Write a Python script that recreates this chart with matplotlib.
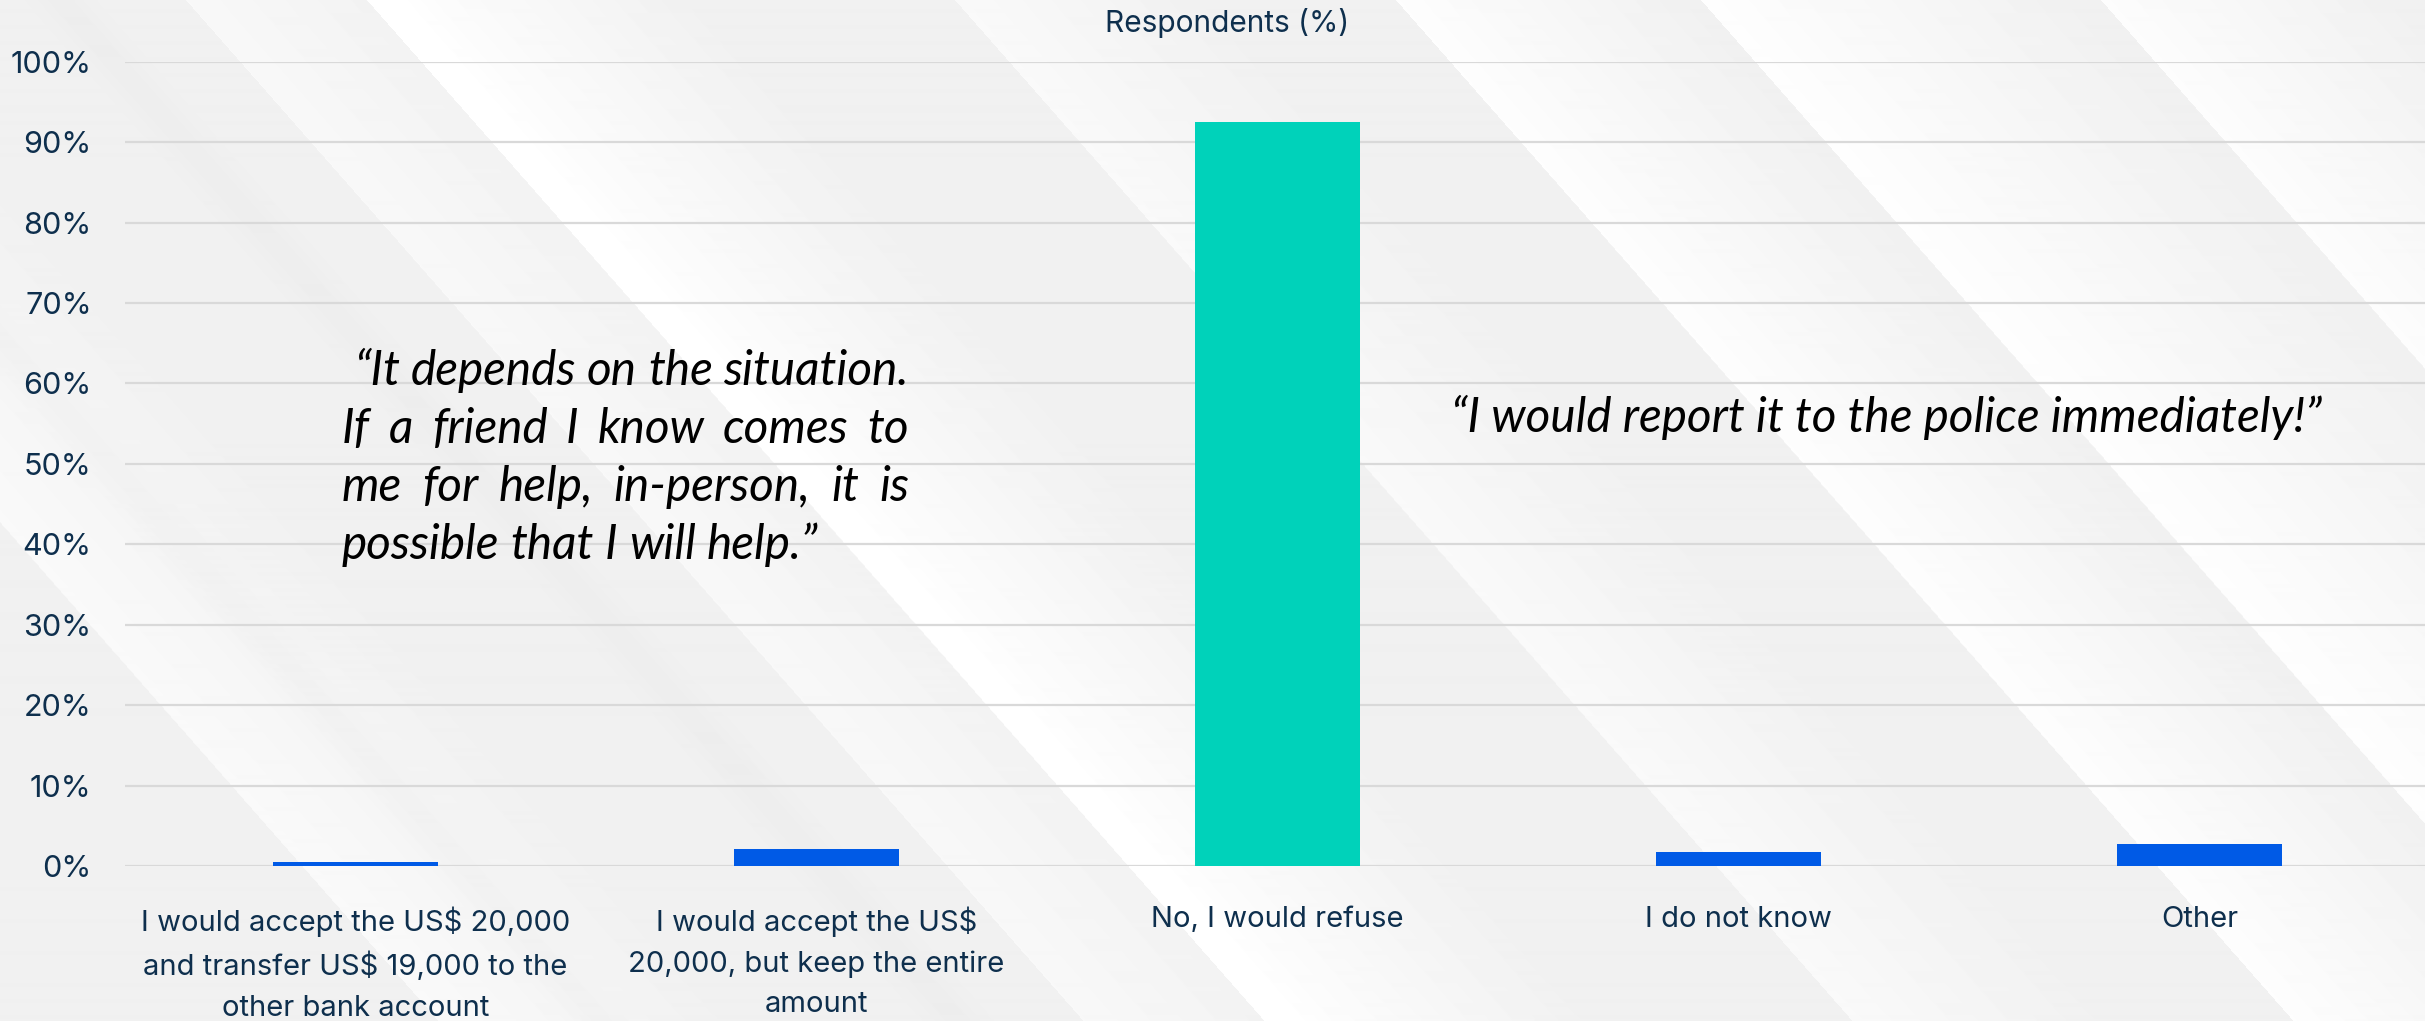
import matplotlib
matplotlib.use("Agg")
import matplotlib.pyplot as plt
import numpy as np

# --- Survey data ---
categories = [
    "I would accept the US$ 20,000\nand transfer US$ 19,000 to the\nother bank account",
    "I would accept the US$\n20,000, but keep the entire\namount",
    "No, I would refuse",
    "I do not know",
    "Other",
]
respondents_pct = [0.5, 2.1, 92.5, 1.8, 2.7]
bar_colors = ["#005AE6", "#005AE6", "#00D2BA", "#005AE6", "#005AE6"]
y_ticks = [0, 10, 20, 30, 40, 50, 60, 70, 80, 90, 100]
y_tick_labels = [f"{v}%" for v in y_ticks]

quote_left = [
    "\u201cIt depends on the situation.",
    "If a friend I know comes to",
    "me for help, in-person, it is",
    "possible that I will help.\u201d",
]
quote_right = "\u201cI would report it to the police immediately!\u201d"

W, H = 2425, 1021
navy = "#0E2F4D"
ui_font = ["Inter", "DejaVu Sans"]
quote_font = ["Lato", "Open Sans", "DejaVu Sans"]

fig = plt.figure(figsize=(W / 100, H / 100), dpi=100)

# --- Soft grey backdrop with diagonal light streaks ---
bg = fig.add_axes([0, 0, 1, 1], zorder=-10)
bg.axis("off")
yy, xx = np.mgrid[0:H, 0:W]
slope = 0.88
u = xx - slope * yy
shade = np.full((H, W), 0.943)
streaks = [  # (edge position, fade width, strength)
    (-460, 300, 0.035),
    (185, 250, 0.03),
    (366, 330, 0.057),
    (954, 260, 0.035),
    (1395, 300, 0.05),
    (1700, 380, 0.052),
    (2100, 300, 0.047),
]
for u0, w, s in streaks:
    t = (u - u0) / w
    shade += np.where((t >= 0) & (t <= 1), s * (1 - t), 0.0)
# faint darker lines at the left
for u0 in (-300, 60):
    shade -= 0.012 * np.exp(-((u - u0) / 25.0) ** 2)
shade = np.clip(shade, 0, 1)
bg.imshow(shade, cmap="gray", vmin=0, vmax=1, aspect="auto", extent=(0, W, H, 0),
          interpolation="bilinear")
bg.set_xlim(0, W)
bg.set_ylim(H, 0)

# --- Bar chart ---
ax = fig.add_axes([125 / W, 1 - 866 / H, 2305 / W, (866 - 61.7) / H])
ax.patch.set_alpha(0)
x = list(range(len(categories)))
ax.bar(x, respondents_pct, width=0.356, color=bar_colors, zorder=3)
ax.set_xlim(-0.5, len(categories) - 0.5)
ax.set_ylim(0, 100)
ax.set_yticks(y_ticks)
ax.set_yticklabels(y_tick_labels)
ax.set_xticks(x)
ax.set_xticklabels(categories, linespacing=1.64)
for s in ax.spines.values():
    s.set_visible(False)
ax.grid(axis="y", color="#D9D9D9", lw=1.6, zorder=1)
ax.tick_params(axis="both", length=0, colors=navy)
ax.tick_params(axis="y", pad=24, labelsize=22)
ax.tick_params(axis="x", pad=29, labelsize=21)
for lab in ax.get_xticklabels() + ax.get_yticklabels():
    lab.set_family(ui_font)
    lab.set_color(navy)
for lab in ax.get_xticklabels():
    lab.set_verticalalignment("top")

fig.text(1227 / W, 1 - 23 / H, "Respondents (%)", ha="center", va="center",
         fontsize=21.5, color=navy, family=ui_font)

# --- Quotes (left block justified word by word) ---
renderer = fig.canvas.get_renderer()
qsize = 34.3


def put_line(text, x0, x1, baseline, justify=True):
    items = []
    for wd in text.split(" "):
        t = fig.text(0, 0, wd, fontsize=qsize, style="italic", family=quote_font,
                     color="black", va="baseline", ha="left")
        items.append((t, t.get_window_extent(renderer).width))
    total = sum(wid for _, wid in items)
    if justify and len(items) > 1:
        gap = (x1 - x0 - total) / (len(items) - 1)
    else:
        sp = fig.text(0, 0, "a a", fontsize=qsize, style="italic", family=quote_font)
        a = fig.text(0, 0, "aa", fontsize=qsize, style="italic", family=quote_font)
        gap = sp.get_window_extent(renderer).width - a.get_window_extent(renderer).width
        sp.remove()
        a.remove()
    pos = x0
    for t, wid in items:
        t.set_position((pos / W, 1 - baseline / H))
        pos += wid + gap


put_line(quote_left[0], 354, 909, 385)
put_line(quote_left[1], 342, 909, 443)
put_line(quote_left[2], 342, 909, 501)
put_line(quote_left[3], 342, 909, 559, justify=False)

fig.text(1451 / W, 1 - 432 / H, quote_right, fontsize=qsize, style="italic",
         family=quote_font, color="black", va="baseline", ha="left")

fig.savefig("out.png", dpi=100)
